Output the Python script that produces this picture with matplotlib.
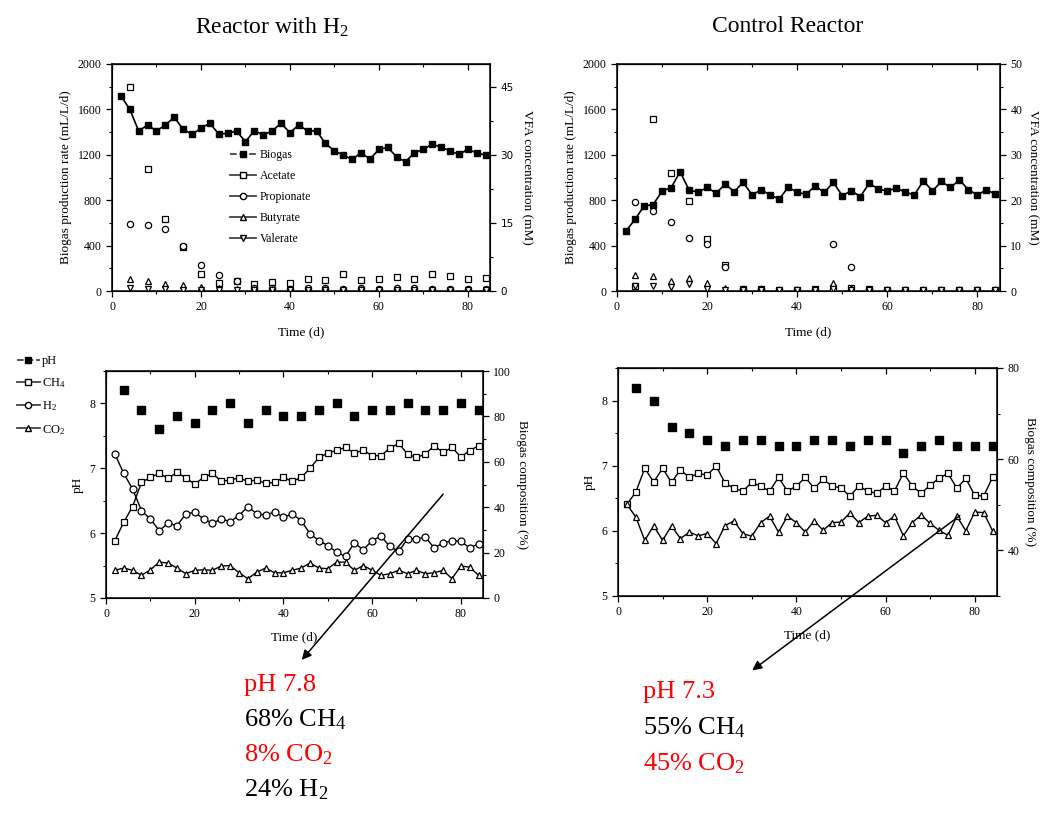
import numpy as np
import matplotlib
matplotlib.use("Agg")
import matplotlib.pyplot as plt
from matplotlib.lines import Line2D
from matplotlib.ticker import MultipleLocator

plt.rcParams['font.family'] = ['Liberation Serif', 'DejaVu Serif']
plt.rcParams['mathtext.fontset'] = 'custom'
plt.rcParams['mathtext.rm'] = 'Liberation Serif'
plt.rcParams['mathtext.it'] = 'Liberation Serif:italic'

# ---------------- data ----------------
days2 = np.arange(2, 85, 2)          # every 2 days, 2..84
days4 = np.arange(4, 85, 4)          # every 4 days, 4..84

# Reactor with H2 - biogas (mL/L/d)
h2_biogas = [1720, 1600, 1410, 1463, 1410, 1463, 1531, 1425, 1380, 1434,
             1478, 1383, 1389, 1410, 1315, 1413, 1375, 1410, 1478, 1395,
             1463, 1410, 1410, 1300, 1235, 1197, 1159, 1218, 1162, 1247,
             1265, 1182, 1138, 1218, 1247, 1295, 1265, 1235, 1203, 1247,
             1218, 1197]
# Reactor with H2 - VFA (mM), sampled every 4 days
h2_acetate = [45.0, 26.8, 15.9, 9.8, 3.7, 1.8, 2.2, 1.6, 2.0, 1.8, 2.7,
              2.4, 3.8, 2.4, 2.6, 3.0, 2.7, 3.8, 3.2, 2.6, 2.8]
h2_propionate = [14.8, 14.6, 13.7, 9.9, 5.7, 3.6, 2.1, 0.7, 0.6, 0.5, 0.6,
                 0.6, 0.4, 0.6, 0.5, 0.6, 0.6, 0.4, 0.5, 0.4, 0.5]
h2_butyrate = [2.6, 2.3, 1.6, 1.3, 0.8, 0.7, 0.5, 0.4, 0.4, 0.4, 0.3,
               0.4, 0.3, 0.4, 0.3, 0.3, 0.3, 0.3, 0.3, 0.3, 0.3]
h2_valerate = [0.6, 0.5, 0.4, 0.3, 0.3, 0.3, 0.2, 0.2, 0.2, 0.2, 0.2,
               0.2, 0.2, 0.2, 0.2, 0.2, 0.2, 0.2, 0.2, 0.2, 0.2]

# Control reactor - biogas (mL/L/d)
ct_biogas = [530, 630, 750, 760, 880, 910, 1050, 890, 870, 912, 862, 941,
             876, 956, 847, 891, 847, 809, 915, 868, 853, 926, 868, 956,
             841, 882, 832, 950, 897, 882, 906, 870, 847, 970, 882, 965,
             912, 979, 891, 847, 891, 853]
# Control reactor - VFA (mM), sampled every 4 days
ct_acetate = [1.2, 37.9, 25.9, 19.9, 11.5, 5.7, 0.4, 0.4, 0.3, 0.3, 0.4,
              0.7, 0.6, 0.4, 0.3, 0.2, 0.2, 0.3, 0.3, 0.2, 0.2]
ct_propionate = [19.7, 17.6, 15.1, 11.6, 10.4, 5.2, 0.4, 0.4, 0.3, 0.2,
                 0.3, 10.4, 5.2, 0.4, 0.3, 0.2, 0.2, 0.3, 0.3, 0.2, 0.2]
ct_butyrate = [3.5, 3.2, 2.2, 2.8, 1.8, 0.7, 0.3, 0.3, 0.2, 0.2, 0.3, 1.8,
               0.7, 0.3, 0.2, 0.2, 0.2, 0.2, 0.2, 0.2, 0.2]
ct_valerate = [1.2, 1.0, 0.8, 1.5, 0.5, 0.3, 0.2, 0.2, 0.2, 0.2, 0.2, 0.4,
               0.3, 0.2, 0.2, 0.2, 0.2, 0.2, 0.2, 0.2, 0.2]

# Reactor with H2 - pH and biogas composition (%)
h2_ph = [8.2, 7.9, 7.6, 7.8, 7.7, 7.9, 8.0, 7.7, 7.9, 7.8, 7.8, 7.9, 8.0,
         7.8, 7.9, 7.9, 8.0, 7.9, 7.9, 8.0, 7.9]
h2_ch4 = [25.3, 33.4, 40.3, 50.9, 53.1, 54.9, 52.7, 55.3, 52.9, 50.2, 53.1,
          54.9, 51.4, 52.0, 52.9, 51.4, 52.0, 50.5, 50.9, 53.1, 51.4, 53.1,
          57.1, 61.9, 63.8, 65.1, 66.3, 63.8, 65.1, 62.7, 62.7, 66.0, 68.1,
          63.4, 61.9, 63.4, 67.1, 64.1, 66.3, 62.2, 64.9, 67.1]
h2_h2 = [63.4, 54.9, 48.0, 38.5, 34.8, 29.7, 32.9, 31.9, 37.0, 37.8, 34.8,
         32.9, 34.8, 33.7, 36.3, 40.3, 37.0, 36.6, 37.8, 35.6, 37.0, 34.1,
         28.3, 25.3, 23.1, 20.2, 18.3, 24.3, 21.2, 25.3, 27.2, 22.7, 20.5,
         26.1, 26.1, 26.8, 22.1, 24.2, 25.3, 24.9, 22.1, 23.9]
h2_co2 = [12.2, 13.2, 12.2, 10.0, 12.4, 15.8, 15.4, 13.2, 10.7, 12.2, 12.4,
          12.2, 14.1, 14.3, 11.1, 8.5, 11.4, 13.2, 11.1, 11.1, 12.2, 13.2,
          15.4, 13.2, 12.9, 15.8, 15.8, 12.2, 14.3, 12.2, 10.0, 10.7, 12.2,
          10.7, 12.2, 10.7, 11.1, 12.2, 8.5, 14.1, 13.6, 10.0]

# Control reactor - pH and biogas composition (%)
ct_ph = [8.2, 8.0, 7.6, 7.5, 7.4, 7.3, 7.4, 7.4, 7.3, 7.3, 7.4, 7.4, 7.3,
         7.4, 7.4, 7.2, 7.3, 7.4, 7.3, 7.3, 7.3]
ct_ch4 = [50.1, 52.8, 58.0, 55.0, 58.0, 54.9, 57.7, 56.0, 56.9, 56.5, 58.5,
          54.8, 53.6, 53.0, 54.9, 54.1, 53.0, 56.0, 53.0, 54.1, 56.0, 53.6,
          55.6, 54.1, 53.7, 51.9, 54.1, 53.0, 52.5, 54.1, 53.0, 57.0, 54.1,
          52.5, 54.3, 55.8, 56.9, 53.6, 55.8, 52.1, 51.9, 56.0]
ct_co2 = [50.1, 47.3, 42.2, 45.4, 42.2, 45.4, 42.6, 44.0, 43.2, 43.7, 41.5,
          45.4, 46.5, 43.7, 43.1, 46.1, 47.5, 44.0, 47.5, 46.1, 44.0, 46.5,
          44.4, 46.1, 46.2, 48.2, 46.1, 47.5, 47.7, 46.1, 47.5, 43.2, 46.1,
          47.8, 45.9, 44.4, 43.3, 47.5, 44.3, 48.4, 48.3, 44.3]

h2_summary = [("pH 7.8", "red"), ("68% CH$_4$", "black"),
              ("8% CO$_2$", "red"), ("24% H$_2$", "black")]
ct_summary = [("pH 7.3", "red"), ("55% CH$_4$", "black"),
              ("45% CO$_2$", "red")]

# ---------------- figure ----------------
W, H = 1046, 814
fig = plt.figure(figsize=(W / 100, H / 100), dpi=100)
TICK = 8.5
LAB = 9.5


def box(l, t, r, b):
    return [l / W, 1 - b / H, (r - l) / W, (b - t) / H]


def style(ax, xmaj=20, xmin=10):
    ax.set_xlim(0, 85)
    ax.xaxis.set_major_locator(MultipleLocator(xmaj))
    ax.xaxis.set_minor_locator(MultipleLocator(xmin))
    ax.tick_params(which='both', direction='out', labelsize=TICK)
    ax.tick_params(which='major', length=4, width=0.9)
    ax.tick_params(which='minor', length=2, width=0.8)
    for s in ax.spines.values():
        s.set_linewidth(1.1)
    top = ax.secondary_xaxis('top')
    top.xaxis.set_major_locator(MultipleLocator(xmaj))
    top.xaxis.set_minor_locator(MultipleLocator(xmin))
    top.tick_params(which='both', direction='in', labeltop=False)
    top.tick_params(which='major', length=4, width=0.9)
    top.tick_params(which='minor', length=2, width=0.8)


def style_right(ax2):
    ax2.tick_params(which='both', direction='out', labelsize=TICK)
    ax2.tick_params(which='major', length=4, width=0.9)
    ax2.tick_params(which='minor', length=2, width=0.8)


vfa_kw = dict(ls='none', ms=4.5, mfc='white', mec='black', mew=0.9)

# top-left: reactor with H2
ax1 = fig.add_axes(box(112, 64, 490, 291))
ax1.plot(days2, h2_biogas, '-', color='black', lw=1.2, marker='s', ms=5,
         zorder=3)
ax1.set_ylim(0, 2000)
ax1.yaxis.set_major_locator(MultipleLocator(400))
ax1.yaxis.set_minor_locator(MultipleLocator(200))
style(ax1)
ax1.set_xlabel("Time (d)", fontsize=LAB, labelpad=9)
ax1.set_ylabel("Biogas production rate (mL/L/d)", fontsize=LAB)
ax1r = ax1.twinx()
ax1r.plot(days4, h2_acetate, marker='s', **vfa_kw)
ax1r.plot(days4, h2_propionate, marker='o', **vfa_kw)
ax1r.plot(days4, h2_butyrate, marker='^', **vfa_kw)
ax1r.plot(days4, h2_valerate, marker='v', **vfa_kw)
ax1r.set_ylim(0, 50)
ax1r.yaxis.set_major_locator(MultipleLocator(15))
ax1r.yaxis.set_minor_locator(MultipleLocator(7.5))
style_right(ax1r)
for lbl in ax1r.get_yticklabels():
    lbl.set_fontfamily('DejaVu Sans')
    lbl.set_fontsize(7.5)
ax1r.set_ylabel("VFA concentration (mM)", fontsize=LAB, rotation=-90,
                labelpad=14)

leg_handles = [
    Line2D([], [], color='#444444', lw=1.3, marker='s', ms=5, mfc='black',
           mec='black', ls='--'),
    Line2D([], [], color='#444444', lw=1.3, marker='s', ms=4.5, mfc='white',
           mec='black'),
    Line2D([], [], color='#444444', lw=1.3, marker='o', ms=4.5, mfc='white',
           mec='black'),
    Line2D([], [], color='#444444', lw=1.3, marker='^', ms=4.5, mfc='white',
           mec='black'),
    Line2D([], [], color='#444444', lw=1.3, marker='v', ms=4.5, mfc='white',
           mec='black'),
]
ax1.legend(leg_handles, ["Biogas", "Acetate", "Propionate", "Butyrate",
                         "Valerate"],
           loc='upper left', bbox_to_anchor=(0.30, 0.645), frameon=False,
           fontsize=8.5, handlelength=2.2, handletextpad=0.3,
           labelspacing=0.75, numpoints=1, borderaxespad=0)

# top-right: control reactor
ax2 = fig.add_axes(box(617, 64, 1000, 291))
ax2.plot(days2, ct_biogas, '-', color='black', lw=1.2, marker='s', ms=5,
         zorder=3)
ax2.set_ylim(0, 2000)
ax2.yaxis.set_major_locator(MultipleLocator(400))
ax2.yaxis.set_minor_locator(MultipleLocator(200))
style(ax2)
ax2.set_xlabel("Time (d)", fontsize=LAB, labelpad=9)
ax2.set_ylabel("Biogas production rate (mL/L/d)", fontsize=LAB)
ax2r = ax2.twinx()
ax2r.plot(days4, ct_acetate, marker='s', **vfa_kw)
ax2r.plot(days4, ct_propionate, marker='o', **vfa_kw)
ax2r.plot(days4, ct_butyrate, marker='^', **vfa_kw)
ax2r.plot(days4, ct_valerate, marker='v', **vfa_kw)
ax2r.set_ylim(0, 50)
ax2r.yaxis.set_major_locator(MultipleLocator(10))
ax2r.yaxis.set_minor_locator(MultipleLocator(5))
style_right(ax2r)
ax2r.set_ylabel("VFA concentration (mM)", fontsize=LAB, rotation=-90,
                labelpad=12)

# panel titles
fig.text(272 / W, 1 - 27 / H, r"Reactor with H$_2$", fontsize=17,
         ha='center', va='center')
fig.text(788 / W, 1 - 27 / H, "Control Reactor", fontsize=17,
         ha='center', va='center')

comp_kw = dict(color='black', lw=1.0, ms=5, mfc='white', mec='black',
               mew=0.9)

# bottom-left: pH / composition, reactor with H2
ax3 = fig.add_axes(box(106, 371, 483, 598))
ax3.plot(days4, h2_ph, ls='none', marker='s', ms=6, color='black',
         zorder=3)
ax3.set_ylim(5, 8.5)
ax3.yaxis.set_major_locator(MultipleLocator(1))
ax3.yaxis.set_minor_locator(MultipleLocator(0.5))
style(ax3)
ax3.set_xlabel("Time (d)", fontsize=LAB, labelpad=8)
ax3.set_ylabel("pH", fontsize=LAB)
ax3r = ax3.twinx()
ax3r.plot(days2, h2_ch4, marker='s', **comp_kw)
ax3r.plot(days2, h2_h2, marker='o', **comp_kw)
ax3r.plot(days2, h2_co2, marker='^', **comp_kw)
ax3r.set_ylim(0, 100)
ax3r.yaxis.set_major_locator(MultipleLocator(20))
ax3r.yaxis.set_minor_locator(MultipleLocator(10))
style_right(ax3r)
ax3r.set_ylabel("Biogas composition (%)", fontsize=LAB, rotation=-90,
                labelpad=12)

leg2 = [
    Line2D([], [], color='#444444', lw=1.3, marker='s', ms=5, mfc='black',
           mec='black', ls='--'),
    Line2D([], [], color='#444444', lw=1.3, marker='s', ms=4.5, mfc='white',
           mec='black'),
    Line2D([], [], color='#444444', lw=1.3, marker='o', ms=4.5, mfc='white',
           mec='black'),
    Line2D([], [], color='#444444', lw=1.3, marker='^', ms=4.5, mfc='white',
           mec='black'),
]
fig.legend(leg2, ["pH", "CH$_4$", "H$_2$", "CO$_2$"], loc='upper left',
           bbox_to_anchor=(12 / W, 1 - 350 / H), frameon=False, fontsize=9,
           handlelength=1.8, handletextpad=0.2, labelspacing=0.75,
           numpoints=1, borderaxespad=0)

# bottom-right: pH / composition, control reactor
ax4 = fig.add_axes(box(618, 368, 997, 596))
ax4.plot(days4, ct_ph, ls='none', marker='s', ms=6, color='black',
         zorder=3)
ax4.set_ylim(5, 8.5)
ax4.yaxis.set_major_locator(MultipleLocator(1))
ax4.yaxis.set_minor_locator(MultipleLocator(0.5))
style(ax4)
ax4.set_xlabel("Time (d)", fontsize=LAB, labelpad=8)
ax4.set_ylabel("pH", fontsize=LAB)
ax4r = ax4.twinx()
ax4r.plot(days2, ct_ch4, marker='s', **comp_kw)
ax4r.plot(days2, ct_co2, marker='^', **comp_kw)
ax4r.set_ylim(30, 80)
ax4r.set_yticks([40, 60, 80])
ax4r.yaxis.set_minor_locator(MultipleLocator(10))
style_right(ax4r)
ax4r.set_ylabel("Biogas composition (%)", fontsize=LAB, rotation=-90,
                labelpad=12)

# overlay for arrows and summary text
ov = fig.add_axes([0, 0, 1, 1], facecolor='none')
ov.set_xlim(0, W)
ov.set_ylim(H, 0)
ov.axis('off')
arrow = dict(arrowstyle='-|>', color='black', lw=1.1, mutation_scale=14)
ov.annotate('', xy=(300, 662), xytext=(445, 492), arrowprops=arrow)
ov.annotate('', xy=(750, 672), xytext=(962, 514), arrowprops=arrow)

for i, (txt, col) in enumerate(h2_summary):
    ov.text(244, 685 + 35 * i, txt, color=col, fontsize=19, va='center',
            ha='left')
for i, (txt, col) in enumerate(ct_summary):
    ov.text(643, 692 + 36 * i, txt, color=col, fontsize=19, va='center',
            ha='left')

fig.savefig("out.png", dpi=100)
